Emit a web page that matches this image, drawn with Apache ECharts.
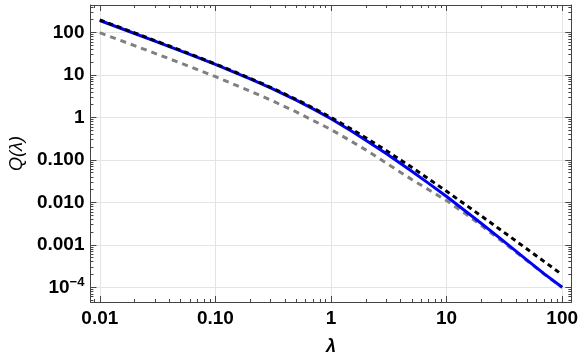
<!DOCTYPE html>
<html>
<head>
<meta charset="utf-8">
<script src="https://cdn.jsdelivr.net/npm/echarts@6/dist/echarts.min.js"></script>
<style>
  html, body { margin: 0; padding: 0; background: #fff; }
  #chart { width: 581px; height: 363px; }
</style>
</head>
<body>
<div id="chart"></div>
<script>
// lambda values (x)
const lambdas = [0.01, 0.02, 0.03, 0.05, 0.07, 0.1, 0.15, 0.2, 0.3, 0.5, 0.7, 1,
  1.5, 2, 3, 5, 7, 10, 15, 20, 30, 50, 70, 100]

// blue solid curve
const blueQ = [192, 95, 62.8, 37, 25.9, 17.7, 11.2, 8.05, 4.95, 2.55, 1.59, 0.932,
  0.481, 0.292, 0.141, 0.054, 0.028, 0.0137, 0.00586, 0.00317, 0.00132, 0.000432, 0.000207, 0.0001]

// black dashed curve
const blackQ = [198, 98, 64.7, 38.1, 26.7, 18.2, 11.6, 8.33, 5.13, 2.67, 1.68, 1.0,
  0.533, 0.333, 0.167, 0.0667, 0.0357, 0.0182, 0.00833, 0.00476, 0.00215, 0.000784, 0.000402, 0.000198]

// gray dashed curve
const grayQ = [99, 49, 32.4, 19.1, 13.4, 9.1, 5.8, 4.17, 2.57, 1.35, 0.85, 0.52,
  0.275, 0.172, 0.085, 0.0345, 0.0198, 0.011, 0.0051, 0.00285, 0.00122, 0.000415, 0.000203, 0.0000985]

// tick labels
const xTickValues = [0.01, 0.1, 1, 10, 100]
const xTickLabels = ['0.01', '0.10', '1', '10', '100']
const yTickValues = [0.0001, 0.001, 0.01, 0.1, 1, 10, 100]
const yTickLabels = ['{b|10}{s|\u22124}', '0.001', '0.010', '0.100', '1', '10', '100']

const xRange = [0.0083, 120]
const yRange = [0.000045, 445]

const pairs = (ys) => lambdas.map((x, i) => [x, ys[i]])

const pickLabel = (values, labels) => (v) => {
  const i = values.findIndex(t => Math.abs(v / t - 1) < 1e-6)
  return i >= 0 ? labels[i] : ''
}

const frameColor = '#444'
const labelFont = { color: '#000', fontFamily: 'Liberation Sans', fontWeight: 'bold', fontSize: 19 }

const baseAxis = {
  type: 'log',
  logBase: 10,
  axisLine: { show: true, onZero: false, lineStyle: { color: frameColor, width: 1 } },
  axisTick: { show: true, inside: true, length: 6, lineStyle: { color: frameColor, width: 1 } },
  minorTick: { show: true, splitNumber: 9, length: 3, lineStyle: { color: frameColor, width: 1 } },
  splitLine: { show: false }
}

const option = {
  backgroundColor: '#fff',
  animation: false,
  grid: { left: 89, right: 9, top: 5, bottom: 61, containLabel: false },
  xAxis: [
    {
      ...baseAxis,
      position: 'bottom',
      min: xRange[0],
      max: xRange[1],
      splitLine: { show: true, lineStyle: { color: '#e4e4e4', width: 1 } },
      axisLabel: { ...labelFont, margin: 7, formatter: pickLabel(xTickValues, xTickLabels) },
      name: 'λ',
      nameLocation: 'middle',
      nameGap: 36,
      nameTextStyle: { color: '#000', fontFamily: 'Liberation Sans', fontStyle: 'italic', fontWeight: 'bold', fontSize: 18 }
    },
    {
      ...baseAxis,
      position: 'top',
      min: xRange[0],
      max: xRange[1],
      axisLabel: { show: false }
    }
  ],
  yAxis: [
    {
      ...baseAxis,
      position: 'left',
      min: yRange[0],
      max: yRange[1],
      splitLine: { show: true, lineStyle: { color: '#e4e4e4', width: 1 } },
      axisLabel: {
        ...labelFont,
        margin: 6,
        formatter: pickLabel(yTickValues, yTickLabels),
        rich: {
          b: { ...labelFont },
          s: { ...labelFont, fontSize: 13, verticalAlign: 'top', padding: [0, 0, 10, 0] }
        }
      },
      name: 'Q(λ)',
      nameLocation: 'middle',
      nameGap: 64,
      nameTextStyle: { color: '#000', fontFamily: 'Liberation Sans', fontStyle: 'italic', fontSize: 18 }
    },
    {
      ...baseAxis,
      position: 'right',
      min: yRange[0],
      max: yRange[1],
      axisLabel: { show: false }
    }
  ],
  series: [
    {
      name: 'gray',
      type: 'line',
      data: pairs(grayQ),
      showSymbol: false,
      symbol: 'none',
      lineStyle: { color: '#808080', width: 3, type: [6, 5] }
    },
    {
      name: 'blue',
      type: 'line',
      data: pairs(blueQ),
      showSymbol: false,
      symbol: 'none',
      lineStyle: { color: '#0000ff', width: 3 }
    },
    {
      name: 'black',
      type: 'line',
      data: pairs(blackQ),
      showSymbol: false,
      symbol: 'none',
      lineStyle: { color: '#000', width: 3, type: [5, 4] }
    }
  ]
}

const chart = echarts.init(document.getElementById('chart'), null, { renderer: 'canvas' })
chart.setOption(option)
</script>
</body>
</html>
